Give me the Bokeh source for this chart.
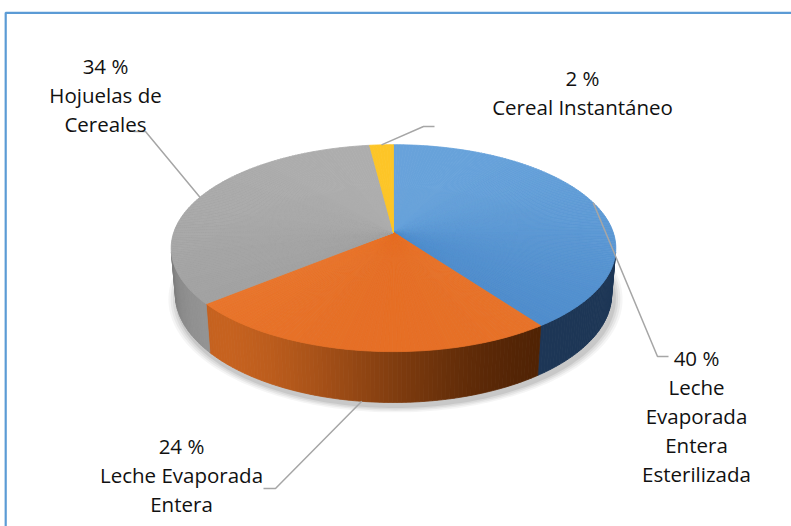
import math
import numpy as np
from bokeh.plotting import figure
from bokeh.models import Range1d, ColumnDataSource
from bokeh.embed import file_html
from bokeh.resources import INLINE
from bokeh.core.properties import value

# ---------------- data ----------------
categories = ["Leche Evaporada Entera Esterilizada", "Leche Evaporada Entera",
              "Hojuelas de Cereales", "Cereal Instantáneo"]
values = [40, 24, 34, 2]
pct_labels = ["40 %", "24 %", "34 %", "2 %"]
name_lines = [["Leche", "Evaporada", "Entera", "Esterilizada"],
              ["Leche Evaporada", "Entera"],
              ["Hojuelas de", "Cereales"],
              ["Cereal Instantáneo"]]

# ---------------- style ----------------
top_light = ["#6ea8de", "#f5924a", "#b0b0b0", "#ffc82e"]
top_dark = ["#4282c6", "#e2661c", "#9a9a9a", "#f2b300"]
wall_lit = ["#3b6a9e", "#c6621f", "#949494", "#d9a000"]
wall_shadow = ["#1d3656", "#4f2204", "#5a5a5a", "#8a6400"]
text_color = "#111111"
leader_color = "#a6a6a6"
FONT = "Open Sans"
FSIZE = "20.5px"
LINE_H = 29

# label layout: (center x, first baseline y), leader elbow, leader end
label_pos = [(696, 357), (181, 445), (105, 65), (582, 77)]
leader_elbow = [(657, 356), (275, 488), (145, 131), (423, 126)]
leader_end = [(668, 356), (263, 488), (133, 131), (434, 126)]

# ---------------- 3D projection ----------------
cx, cy = 393.0, 232.0
D = 5.87
alpha = math.asin(0.46)
s, c = math.sin(alpha), math.cos(alpha)
F = 1290.0
H = 0.2375


def proj(X, Y, Z):
    depth = D - Y * s - Z * c
    up = Y * c - Z * s
    return cx + F * X / depth, cy - F * up / depth


def rim(phi_deg, Y=0.0, r=1.0):
    ph = math.radians(phi_deg)
    return proj(r * math.sin(ph), Y, -r * math.cos(ph))


def hex2rgb(h):
    h = h.lstrip("#")
    return np.array([int(h[i:i + 2], 16) for i in (0, 2, 4)], dtype=float)


def lerp(a, b, t):
    t = max(0.0, min(1.0, t))
    v = hex2rgb(a) * (1 - t) + hex2rgb(b) * t
    return "#%02x%02x%02x" % tuple(int(round(x)) for x in v)


total = float(sum(values))
bounds = []
acc = 0.0
for v in values:
    a0 = acc / total * 360.0
    acc += v
    a1 = acc / total * 360.0
    bounds.append((a0, a1))

zvis = 1.0 / (D * c)
vis_lo = math.degrees(math.acos(-zvis))          # ~101
vis_hi = 360.0 - vis_lo                           # ~259

p = figure(width=791, height=526, output_backend="svg", toolbar_location=None,
           x_range=Range1d(0, 791), y_range=Range1d(526, 0),
           x_axis_location=None, y_axis_location=None, min_border=0,
           background_fill_color="white", border_fill_color="white")
p.outline_line_color = None
p.grid.visible = False

# chart border (blue frame, open to right/bottom)
p.line([5.2, 5.2, 800], [540, 12.3, 12.3], line_color="#5b9bd5", line_width=2.2)

# ---------------- shadow ----------------
for k, (sc, al) in enumerate([(1.04, 0.04), (1.03, 0.05), (1.02, 0.06), (1.01, 0.08)]):
    pts = [rim(a, -H, sc) for a in np.linspace(0, 360, 241)]
    xs = [q[0] + 2.0 for q in pts]
    ys = [q[1] + 4.0 for q in pts]
    p.patch(xs, ys, fill_color="black", fill_alpha=al, line_color=None)

# ---------------- walls ----------------
wx, wy, wc = [], [], []
for i, (a0, a1) in enumerate(bounds):
    lo, hi = max(a0, vis_lo), min(a1, vis_hi)
    if hi <= lo:
        continue
    n = max(2, int((hi - lo) / 1.0))
    angs = np.linspace(lo, hi, n + 1)
    for j in range(n):
        p1, p2 = angs[j], angs[j + 1]
        t1, t2 = rim(p1), rim(p2)
        b1, b2 = rim(p1, -H), rim(p2, -H)
        wx.append([t1[0], t2[0], b2[0], b1[0]])
        wy.append([t1[1], t2[1], b2[1], b1[1]])
        m = 0.5 * (p1 + p2)
        w = max(0.0, math.cos(math.radians(m - 225.0))) ** 2.5
        wc.append(lerp(wall_shadow[i], wall_lit[i], w))
p.patches("xs", "ys", source=ColumnDataSource(dict(xs=wx, ys=wy, col=wc)),
          fill_color="col", line_color="col", line_width=0.8)

# ---------------- top faces ----------------
tx, ty, tc = [], [], []
ycen = proj(0, 0, 0)
for i, (a0, a1) in enumerate(bounds):
    n = max(2, int((a1 - a0) / 1.0))
    angs = np.linspace(a0, a1, n + 1)
    for j in range(n):
        q1, q2 = rim(angs[j]), rim(angs[j + 1])
        tx.append([ycen[0], q1[0], q2[0]])
        ty.append([ycen[1], q1[1], q2[1]])
        t = (0.35 * ycen[1] + 0.65 * 0.5 * (q1[1] + q2[1]) - 145.0) / (352.0 - 145.0)
        tc.append(lerp(top_light[i], top_dark[i], t))
p.patches("xs", "ys", source=ColumnDataSource(dict(xs=tx, ys=ty, col=tc)),
          fill_color="col", line_color="col", line_width=0.8)

# ---------------- leader lines ----------------
for i, (a0, a1) in enumerate(bounds):
    mid = 0.5 * (a0 + a1)
    zmid = -math.cos(math.radians(mid))
    anchor = rim(mid, -H) if zmid > zvis else rim(mid)
    ex, ey = leader_elbow[i]
    fx, fy = leader_end[i]
    p.line([anchor[0], ex, fx], [anchor[1], ey, fy], line_color=leader_color, line_width=1.5)

# ---------------- labels ----------------
lx, ly, lt = [], [], []
for i in range(len(values)):
    x0, y0 = label_pos[i]
    lines = [pct_labels[i]] + name_lines[i]
    for k, ln in enumerate(lines):
        lx.append(x0)
        ly.append(y0 + k * LINE_H)
        lt.append(ln)
p.text(lx, ly, text=lt, text_font=value(FONT), text_font_size=FSIZE,
       text_align="center", text_baseline="alphabetic", text_color=text_color)

open("out.html", "w").write(file_html(p, INLINE))
